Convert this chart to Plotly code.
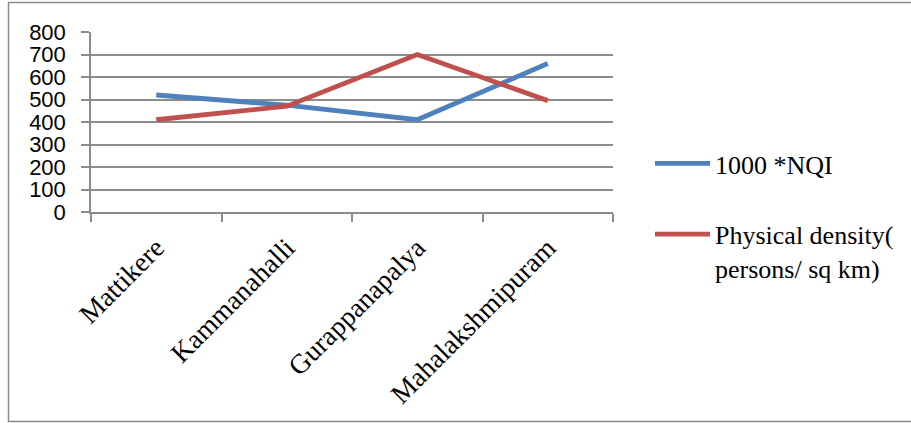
import plotly.graph_objects as go

# Neighbourhoods compared
localities = ["Mattikere", "Kammanahalli", "Gurappanapalya", "Mahalakshmipuram"]

# Neighbourhood quality index (scaled by 1000)
nqi_x1000 = [520, 475, 410, 660]

# Physical density (persons / sq km)
physical_density = [410, 470, 700, 495]

BLUE = "#4F81BD"
RED = "#C0504D"
GRID = "#8C8C8C"
SERIF = "Liberation Serif, Times New Roman, serif"
SANS = "Liberation Sans, Arial, sans-serif"

fig = go.Figure()
fig.add_trace(go.Scatter(
    x=localities, y=nqi_x1000, mode="lines", name="1000 *NQI",
    line=dict(color=BLUE, width=4.8), legendgroup="a",
))
fig.add_trace(go.Scatter(
    x=localities, y=physical_density, mode="lines",
    name="Physical density(<br>persons/ sq km)",
    line=dict(color=RED, width=4.8), legendgroup="b",
))

L, R, T, B = 91, 298, 32, 211
W, H = 911, 423
pw, ph = W - L - R, H - T - B

def px_x(px):
    return (px - L) / pw

def px_y(py):
    return (H - B - py) / ph

fig.update_layout(
    width=W, height=H,
    margin=dict(l=L, r=R, t=T, b=B, autoexpand=False),
    paper_bgcolor="white", plot_bgcolor="white",
    showlegend=True,
    legend=dict(
        x=px_x(650), y=px_y(140), xanchor="left", yanchor="top",
        font=dict(family=SERIF, size=26, color="black"),
        tracegroupgap=34, itemwidth=55, valign="top",
        bgcolor="rgba(0,0,0,0)",
    ),
    xaxis=dict(
        type="category", range=[-0.5, 3.5], tickson="boundaries",
        ticks="outside", ticklen=8, tickcolor=GRID, tickwidth=1.5,
        showline=True, linecolor=GRID, linewidth=1.5,
        showgrid=False, tickangle=-45, ticklabelstandoff=7,
        tickfont=dict(family=SERIF, size=27.5, color="black"),
    ),
    yaxis=dict(
        range=[0, 800], dtick=100, tick0=0,
        ticks="outside", ticklen=8, tickcolor=GRID, tickwidth=1.5,
        showline=True, linecolor=GRID, linewidth=1.5,
        showgrid=True, gridcolor=GRID, gridwidth=1.5,
        zeroline=False, ticklabelstandoff=11,
        tickfont=dict(family=SANS, size=22, color="black"),
    ),
    shapes=[dict(
        type="rect", xref="paper", yref="paper",
        x0=px_x(8.5), x1=px_x(930), y0=px_y(421.5), y1=px_y(2.5),
        line=dict(color="#8C8C8C", width=1.5), fillcolor="rgba(0,0,0,0)",
        layer="below",
    )],
)

fig.write_html("out.html")
